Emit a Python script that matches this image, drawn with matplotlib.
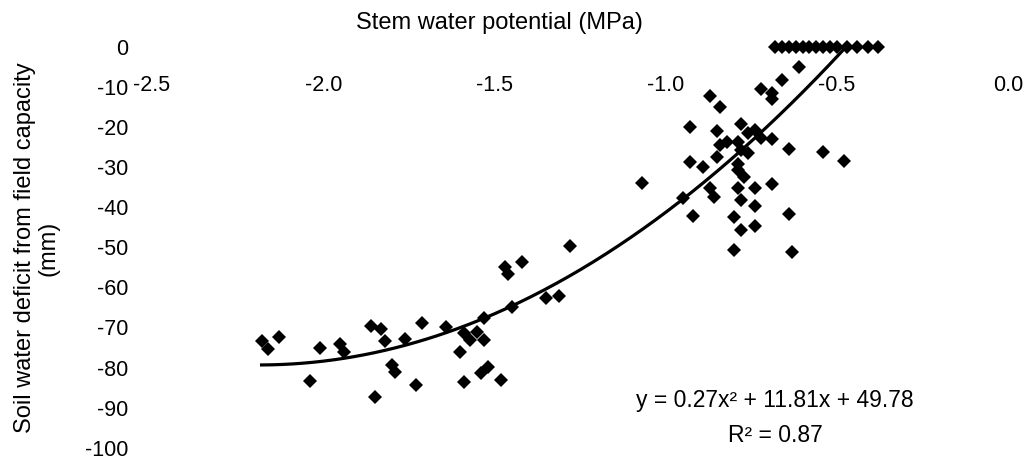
import numpy as np
import matplotlib
matplotlib.use("Agg")
import matplotlib.pyplot as plt

plt.rcParams['font.family'] = ['Liberation Sans', 'DejaVu Sans']

# Stem water potential (MPa)
swp = [
    -0.68, -0.66, -0.64, -0.62, -0.60, -0.58, -0.56, -0.54, -0.52, -0.50, -0.47, -0.44, -0.41, -0.38,
    -0.61, -0.66, -0.72, -0.69, -0.69,
    -0.87, -0.84, -0.93, -0.85, -0.78, -0.74, -0.76, -0.72, -0.69, -0.64, -0.54, -0.48,
    -0.84, -0.82, -0.79, -0.78, -0.76, -0.85, -0.93, -0.89, -0.79, -0.79, -0.77,
    -1.07, -0.87, -0.79, -0.74, -0.69, -0.95, -0.86, -0.78, -0.74, -0.92, -0.80, -0.64,
    -0.78, -0.74, -0.80, -0.63, -1.28,
    -1.47, -1.46, -1.42, -1.45, -1.35, -1.31, -1.53, -1.59, -1.57, -1.55, -1.53, -1.52,
    -1.54, -1.48, -1.60, -1.59, -1.76, -1.71, -1.64, -1.73,
    -2.18, -2.16, -2.13, -2.01, -1.95, -1.94, -2.04, -1.86, -1.83, -1.82, -1.80, -1.79, -1.85,
]
# Soil water deficit from field capacity (mm)
swd = [
    0, 0, 0, 0, 0, 0, 0, 0, 0, 0, 0, 0, 0, 0,
    -5.0, -8.3, -10.5, -11.5, -13.0,
    -12.3, -15.0, -20.0, -21.0, -19.3, -20.8, -21.5, -22.8, -23.0, -25.5, -26.3, -28.5,
    -24.5, -23.8, -23.8, -25.8, -26.5, -27.5, -28.8, -30.0, -29.3, -30.7, -32.5,
    -34.0, -35.2, -35.2, -35.2, -34.2, -37.7, -37.5, -38.2, -39.7, -42.2, -42.5, -41.7,
    -45.7, -44.7, -50.7, -51.2, -49.7,
    -54.9, -56.7, -53.7, -64.9, -62.7, -62.2, -67.7, -71.4, -73.1, -71.1, -73.1, -79.9,
    -81.4, -83.1, -76.1, -83.6, -72.9, -68.9, -69.9, -84.4,
    -73.4, -75.4, -72.4, -75.1, -74.1, -76.1, -83.4, -69.7, -70.4, -73.4, -79.4, -81.1, -87.4,
]
# trendline coefficients (x expressed in 0.1 MPa units)
trend_coef = [0.27, 11.81, 49.78]
x_ticks = [-2.5, -2.0, -1.5, -1.0, -0.5, 0.0]
y_ticks = [0, -10, -20, -30, -40, -50, -60, -70, -80, -90, -100]

W, H = 1033, 459
fig = plt.figure(figsize=(W / 100, H / 100), dpi=100)
ax = fig.add_axes([152 / W, 1 - 447.7 / H, 856 / W, 401 / H])

ax.plot(swp, swd, linestyle='none', marker='D', markersize=7.2, color='black',
        markeredgewidth=0, clip_on=False, zorder=3)

xc = np.linspace(min(swp), max(swp), 300)
yc = np.polyval(trend_coef, xc * 10)
ax.plot(xc, yc, color='black', linewidth=2.3, zorder=2)

ax.set_xlim(-2.5, 0)
ax.set_ylim(-100, 0)
for s in ax.spines.values():
    s.set_visible(False)
ax.spines['bottom'].set_position(('data', 0))

ax.set_xticks(x_ticks)
ax.set_xticklabels([f"{v:.1f}" for v in x_ticks])
ax.set_yticks(y_ticks)
ax.set_yticklabels([str(v) for v in y_ticks])
ax.tick_params(axis='x', length=0, pad=20.5, labelsize=15.5)
ax.tick_params(axis='y', length=0, pad=17, labelsize=15.5)

fig.text(499 / W, 1 - 23 / H, "Stem water potential (MPa)", ha='center', va='center', fontsize=17)
fig.text(37 / W, 1 - 248 / H, "Soil water deficit from field capacity\n(mm)", rotation=90,
         ha='center', va='center', multialignment='center', fontsize=17, linespacing=1.1)

fig.text(775 / W, 1 - 401 / H, "y = 0.27x² + 11.81x + 49.78", ha='center', va='center', fontsize=16.5)
fig.text(775 / W, 1 - 436 / H, "R² = 0.87", ha='center', va='center', fontsize=16.5)

fig.savefig("out.png", dpi=100)
